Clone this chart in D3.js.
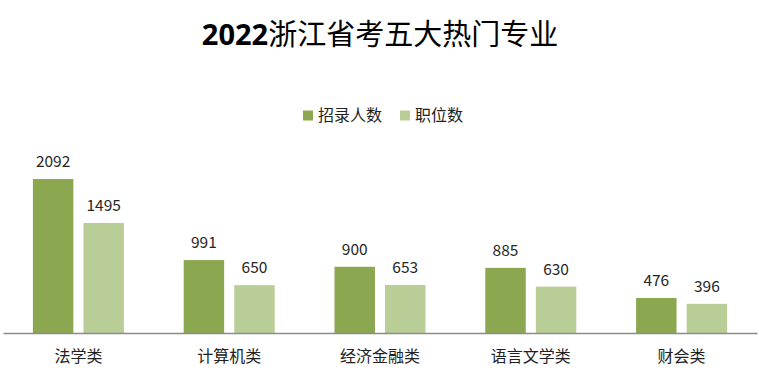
<!DOCTYPE html>
<html><head><meta charset="utf-8">
<script src="https://cdn.jsdelivr.net/npm/d3@7"></script>
<style>
body{margin:0;background:#fff;}
svg{display:block;}
text{font-family:"Noto Sans CJK SC","Noto Sans",sans-serif;}
</style></head>
<body>
<svg id="c" width="759" height="371"></svg>
<script>
const categories = ["法学类","计算机类","经济金融类","语言文学类","财会类"];
const seriesNames = ["招录人数","职位数"];
const recruits = [2092, 991, 900, 885, 476];
const positions = [1495, 650, 653, 630, 396];
const colors = ["#8BA750","#B9CE97"];
const title = "2022浙江省考五大热门专业";

const svg = d3.select("#c");
const W = 759, H = 371;
const base = 333;
const x0 = d3.scaleBand().domain(categories).range([3, 757]).paddingInner(0).paddingOuter(0);
const step = x0.step();
const x1 = d3.scaleBand().domain(seriesNames).range([step/2 - 45.5, step/2 + 45.5]).paddingInner(0.2).paddingOuter(0);
const y = d3.scaleLinear().domain([0, 2500]).range([base, 149]);

const data = categories.map((c,i)=>({cat:c, vals:[recruits[i], positions[i]]}));

// title
const t = svg.append("text").attr("x", 380).attr("y", 45).attr("text-anchor","middle")
  .attr("font-size", 29).attr("fill","#000");
t.append("tspan").attr("font-weight","bold").attr("font-family","'Open Sans','Noto Sans',sans-serif").text("2022");
t.append("tspan").attr("font-family","'Noto Sans CJK SC'").attr("font-weight","normal").text("浙江省考五大热门专业");

// legend
const leg = svg.append("g");
const legItems = [{n:seriesNames[0], x:303},{n:seriesNames[1], x:400}];
legItems.forEach((d,i)=>{
  leg.append("rect").attr("x", d.x).attr("y", 110.5).attr("width", 10).attr("height", 10).attr("fill", colors[i]);
  leg.append("text").attr("x", d.x + 15).attr("y", 121).attr("font-size", 16).attr("fill","#222").text(d.n);
});

// bars
const g = svg.append("g");
data.forEach(d=>{
  const gg = g.append("g").attr("transform", `translate(${x0(d.cat)},0)`);
  d.vals.forEach((v,j)=>{
    gg.append("rect").attr("x", x1(seriesNames[j])).attr("y", y(v))
      .attr("width", x1.bandwidth()).attr("height", base - y(v)).attr("fill", colors[j]);
    gg.append("text").attr("x", x1(seriesNames[j]) + x1.bandwidth()/2).attr("y", y(v) - 12)
      .attr("text-anchor","middle").attr("font-size", 15.5).attr("fill","#262626")
      .attr("font-family","'Open Sans','Noto Sans',sans-serif").text(v);
  });
});

// axis
const ax = svg.append("g").attr("transform", `translate(0,${base})`)
  .call(d3.axisBottom(x0).tickSize(0).tickPadding(0));
ax.select(".domain").attr("stroke","#8c8c8c").attr("stroke-width",1.5);
ax.selectAll(".tick text").attr("font-size", 16).attr("fill","#222")
  .attr("font-family","'Noto Sans CJK SC'").attr("dy", null).attr("y", 29);
</script>
</body></html>
